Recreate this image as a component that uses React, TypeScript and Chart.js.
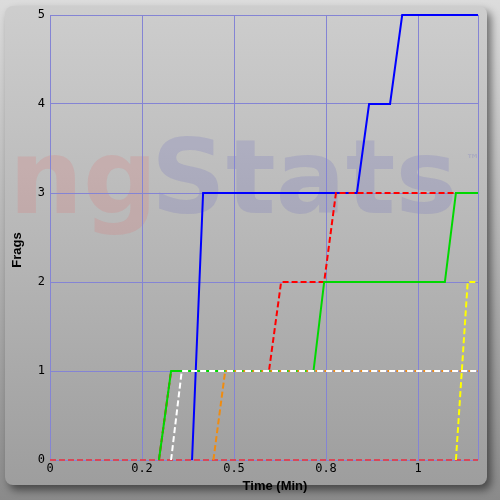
import { useEffect, useRef } from 'react';
import { Chart, ChartConfiguration, Plugin, registerables } from 'chart.js';

Chart.register(...registerables);

// Time axis (minutes) and frag axis
const timeMax = 1.163;
const timeTicks = [0, 0.25, 0.5, 0.75, 1];
const timeTickLabels = ['0', '0.2', '0.5', '0.8', '1'];
const fragMax = 5;

// One pair of arrays per player: time of sample / frag count at that time
const whiteTimes = [0.329, 0.358, 1.163];
const whiteFrags = [0, 1, 1];

const orangeTimes = [0.444, 0.476, 1.163];
const orangeFrags = [0, 1, 1];

const greenTimes = [0.296, 0.329, 0.716, 0.745, 1.073, 1.103, 1.163];
const greenFrags = [0, 1, 1, 2, 2, 3, 3];

const redTimes = [0.296, 0.329, 0.595, 0.628, 0.745, 0.777, 1.163];
const redFrags = [0, 1, 1, 2, 2, 3, 3];

const blueTimes = [0.386, 0.416, 0.834, 0.867, 0.924, 0.957, 1.163];
const blueFrags = [0, 3, 3, 4, 4, 5, 5];

const yellowTimes = [1.103, 1.135, 1.163];
const yellowFrags = [0, 2, 2];

const pinkTimes = [0, 1.163];
const pinkFrags = [0, 0];

const cyanTimes = [0, 1.163];
const cyanFrags = [0, 0];

// first entry is drawn on top
const players = [
  { times: whiteTimes, frags: whiteFrags, color: '#ffffff', dash: [6, 3] },
  { times: orangeTimes, frags: orangeFrags, color: '#f08c10', dash: [6, 3] },
  { times: greenTimes, frags: greenFrags, color: '#00d800', dash: [] },
  { times: redTimes, frags: redFrags, color: '#ff0000', dash: [6, 3] },
  { times: blueTimes, frags: blueFrags, color: '#0000ff', dash: [] },
  { times: yellowTimes, frags: yellowFrags, color: '#ffff00', dash: [6, 3] },
  { times: pinkTimes, frags: pinkFrags, color: '#d84858', dash: [6, 3] },
  { times: cyanTimes, frags: cyanFrags, color: '#30d8c0', dash: [3, 6] },
];

const gridColor = '#8484d4';

const ngStatsBackground: Plugin = {
  id: 'ngStatsBackground',
  beforeDraw(chart) {
    const { ctx, width, height } = chart;
    ctx.save();

    // outer light frame
    const outer = ctx.createLinearGradient(0, 0, 0, height);
    outer.addColorStop(0, '#dcdcdc');
    outer.addColorStop(1, '#8a8a8a');
    ctx.fillStyle = outer;
    ctx.fillRect(0, 0, width, height);

    // raised panel with soft shadow bottom-right
    const panel = ctx.createLinearGradient(0, 0, 0, height);
    panel.addColorStop(0, '#cecece');
    panel.addColorStop(0.5, '#b6b6b6');
    panel.addColorStop(1, '#9c9c9c');
    ctx.shadowColor = 'rgba(0,0,0,0.5)';
    ctx.shadowBlur = 8;
    ctx.shadowOffsetX = 4;
    ctx.shadowOffsetY = 5;
    ctx.fillStyle = panel;
    ctx.beginPath();
    ctx.roundRect(5, 6, 482, 479, 8);
    ctx.fill();
    ctx.shadowColor = 'transparent';

    // watermark
    ctx.textBaseline = 'alphabetic';
    ctx.textAlign = 'left';
    ctx.font = 'bold 104px "DejaVu Sans"';
    ctx.fillStyle = 'rgba(225, 110, 110, 0.2)';
    ctx.fillText('ng', 9, 213);
    ctx.fillStyle = 'rgba(110, 110, 190, 0.22)';
    ctx.fillText('Stats', 151, 213, 312);
    ctx.font = 'bold 14px "DejaVu Sans"';
    ctx.fillText('™', 466, 164);

    ctx.restore();
  },
  beforeDatasetsDraw(chart) {
    const { ctx, chartArea } = chart;
    ctx.save();
    ctx.strokeStyle = gridColor;
    ctx.lineWidth = 1;
    ctx.beginPath();
    ctx.moveTo(Math.round(chartArea.right) + 0.5, chartArea.top);
    ctx.lineTo(Math.round(chartArea.right) + 0.5, chartArea.bottom);
    ctx.stroke();

    // axis titles
    ctx.fillStyle = '#000000';
    ctx.font = 'bold 13px "Liberation Sans"';
    ctx.textAlign = 'center';
    ctx.textBaseline = 'middle';
    ctx.fillText('Time (Min)', 275, 486);
    ctx.translate(17, 250);
    ctx.rotate(-Math.PI / 2);
    ctx.fillText('Frags', 0, 0);
    ctx.restore();
  },
};

export default function App() {
  const canvasRef = useRef<HTMLCanvasElement>(null);
  const chartRef = useRef<Chart | null>(null);

  useEffect(() => {
    document.body.style.margin = '0';
    if (!canvasRef.current) return;

    if (chartRef.current) {
      chartRef.current.destroy();
    }

    const ctx = canvasRef.current.getContext('2d');
    if (!ctx) return;

    const config: ChartConfiguration<'line'> = {
      type: 'line',
      data: {
        datasets: players.map((p) => ({
          data: p.times.map((t, i) => ({ x: t, y: p.frags[i] })),
          borderColor: p.color,
          borderWidth: 2,
          borderDash: p.dash,
          pointRadius: 0,
          tension: 0,
          fill: false,
          clip: 1,
        })),
      },
      options: {
        animation: false,
        responsive: true,
        maintainAspectRatio: false,
        layout: {
          padding: { top: 15, right: 22, bottom: 0, left: 0 },
        },
        plugins: {
          legend: { display: false },
          tooltip: { enabled: false },
        },
        scales: {
          x: {
            type: 'linear',
            min: 0,
            max: timeMax,
            afterBuildTicks: (scale) => {
              scale.ticks = timeTicks.map((value) => ({ value }));
            },
            afterFit: (scale) => {
              scale.height = 40;
            },
            ticks: {
              callback: (_value, index) => timeTickLabels[index],
              color: '#000000',
              font: { family: '"DejaVu Sans Mono"', size: 12 },
              padding: 2,
              maxRotation: 0,
            },
            grid: { color: gridColor, drawTicks: false },
            border: { display: false },
          },
          y: {
            min: 0,
            max: fragMax,
            afterFit: (scale) => {
              scale.width = 50;
            },
            ticks: {
              stepSize: 1,
              color: '#000000',
              font: { family: '"DejaVu Sans Mono"', size: 12 },
              padding: 5,
            },
            grid: { color: gridColor, drawTicks: false },
            border: { display: false },
          },
        },
      },
      plugins: [ngStatsBackground],
    };

    chartRef.current = new Chart(ctx, config);

    return () => {
      if (chartRef.current) {
        chartRef.current.destroy();
        chartRef.current = null;
      }
    };
  }, []);

  return (
    <div style={{ width: 500, height: 500, position: 'relative' }}>
      <canvas ref={canvasRef} />
    </div>
  );
}
